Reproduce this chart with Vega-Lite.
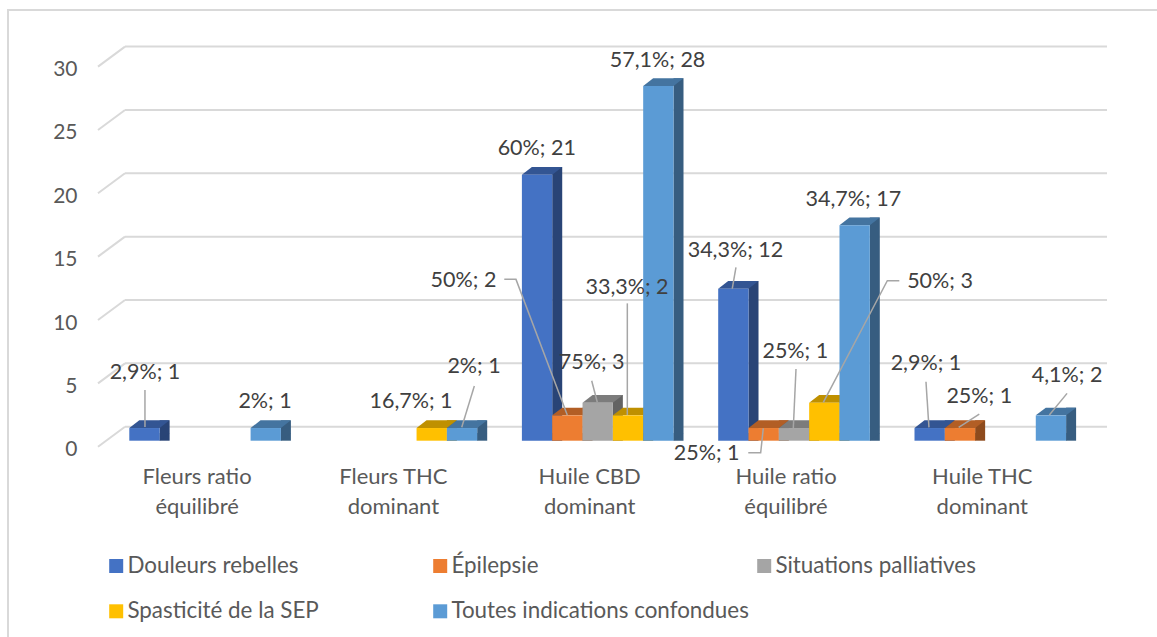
{"$schema":"https://vega.github.io/schema/vega-lite/v6.json","width":982,"height":380.1,"autosize":"none","padding":{"left":125,"top":60.6,"right":50,"bottom":196.3},"background":"white","config":{"view":{"stroke":null},"font":"Lato","text":{"font":"Lato"}},
"datasets":{"bars":[
{"n":1,"category":"Fleurs ratio équilibré","series":"Douleurs rebelles","value":1,"label":"2,9%; 1"},
{"n":2,"category":"Fleurs ratio équilibré","series":"Toutes indications confondues","value":1,"label":"2%; 1"},
{"n":3,"category":"Fleurs THC dominant","series":"Spasticité de la SEP","value":1,"label":"16,7%; 1"},
{"n":4,"category":"Fleurs THC dominant","series":"Toutes indications confondues","value":1,"label":"2%; 1"},
{"n":5,"category":"Huile CBD dominant","series":"Douleurs rebelles","value":21,"label":"60%; 21"},
{"n":6,"category":"Huile CBD dominant","series":"Épilepsie","value":2,"label":"50%; 2"},
{"n":7,"category":"Huile CBD dominant","series":"Situations palliatives","value":3,"label":"75%; 3"},
{"n":8,"category":"Huile CBD dominant","series":"Spasticité de la SEP","value":2,"label":"33,3%; 2"},
{"n":9,"category":"Huile CBD dominant","series":"Toutes indications confondues","value":28,"label":"57,1%; 28"},
{"n":10,"category":"Huile ratio équilibré","series":"Douleurs rebelles","value":12,"label":"34,3%; 12"},
{"n":11,"category":"Huile ratio équilibré","series":"Épilepsie","value":1,"label":"25%; 1"},
{"n":12,"category":"Huile ratio équilibré","series":"Situations palliatives","value":1,"label":"25%; 1"},
{"n":13,"category":"Huile ratio équilibré","series":"Spasticité de la SEP","value":3,"label":"50%; 3"},
{"n":14,"category":"Huile ratio équilibré","series":"Toutes indications confondues","value":17,"label":"34,7%; 17"},
{"n":15,"category":"Huile THC dominant","series":"Douleurs rebelles","value":1,"label":"2,9%; 1"},
{"n":16,"category":"Huile THC dominant","series":"Épilepsie","value":1,"label":"25%; 1"},
{"n":17,"category":"Huile THC dominant","series":"Toutes indications confondues","value":2,"label":"4,1%; 2"}],
"ticks":[{"tick":0},{"tick":5},{"tick":10},{"tick":15},{"tick":20},{"tick":25},{"tick":30}]},
"resolve":{"scale":{"x":"independent","xOffset":"independent","color":"independent"}},
"layer":[
{"data":{"values":[{}]},"mark":{"type":"rect","fill":null,"stroke":"#D9D9D9","strokeWidth":2,"xOffset":-117,"yOffset":-50.6},"encoding":{"x":{"value":0},"x2":{"value":1200},"y":{"value":0},"y2":{"value":700}}},
{"data":{"name":"ticks"},"mark":{"type":"rule","stroke":"#D9D9D9","strokeWidth":2,"yOffset":-14},"encoding":{"y":{"field":"tick","type":"quantitative","title":null,"scale":{"domain":[0,30],"nice":false},"axis":{"values":[0,5,10,15,20,25,30],"domain":false,"ticks":false,"grid":false,"labelFontSize":21,"labelColor":"#595959","labelFont":"Lato","labelPadding":48,"labelOffset":9}}}},
{"data":{"name":"ticks"},"mark":{"type":"point","shape":"M-491,-14L-518,6","size":4,"filled":false,"stroke":"#D9D9D9","strokeWidth":2,"opacity":1},"encoding":{"y":{"field":"tick","type":"quantitative","title":null,"axis":{"values":[0,5,10,15,20,25,30],"domain":false,"ticks":false,"grid":false,"labelFontSize":21,"labelColor":"#595959","labelFont":"Lato","labelPadding":48,"labelOffset":9}}}},
{"data":{"name":"bars"},"mark":{"type":"bar","width":10,"yOffset":-7.7,"y2Offset":-7.7},
"encoding":{
"x":{"field":"category","type":"nominal","title":null,"sort":null,"axis":null,"scale":{"domain":["Fleurs ratio équilibré","Fleurs THC dominant","Huile CBD dominant","Huile ratio équilibré","Huile THC dominant"],"range":[2.11,983.61],"paddingInner":0,"paddingOuter":0}},
"xOffset":{"field":"series","type":"nominal","sort":null,"scale":{"domain":["Douleurs rebelles","Épilepsie","Situations palliatives","Spasticité de la SEP","Toutes indications confondues"],"paddingInner":0,"paddingOuter":0.737}},
"y":{"field":"value","type":"quantitative","stack":null,"title":null,"scale":{"domain":[0,30],"nice":false},"axis":{"values":[0,5,10,15,20,25,30],"domain":false,"ticks":false,"grid":false,"labelFontSize":21,"labelColor":"#595959","labelFont":"Lato","labelPadding":48,"labelOffset":9}},
"color":{"field":"series","type":"nominal","legend":null,"scale":{"domain":["Douleurs rebelles","Épilepsie","Situations palliatives","Spasticité de la SEP","Toutes indications confondues"],"range":["#294476","#8E4B1D","#636363","#997300","#375D80"]}}}},
{"data":{"name":"bars"},
"encoding":{
"x":{"field":"category","type":"nominal","title":null,"sort":null,"scale":{"domain":["Fleurs ratio équilibré","Fleurs THC dominant","Huile CBD dominant","Huile ratio équilibré","Huile THC dominant"],"range":[-18.05,963.45],"paddingInner":0,"paddingOuter":0},"axis":{"labelAngle":0,"domain":false,"ticks":false,"labelFontSize":22,"labelColor":"#595959","labelFont":"Lato","labelPadding":25.5,"labelOffset":-8,"labelLineHeight":30,"labelLimit":400,"labelExpr":"[substring(datum.label,0,lastindexof(datum.label,' ')),substring(datum.label,lastindexof(datum.label,' ')+1)]"}},
"xOffset":{"field":"series","type":"nominal","sort":null,"scale":{"domain":["Douleurs rebelles","Épilepsie","Situations palliatives","Spasticité de la SEP","Toutes indications confondues"],"paddingInner":0,"paddingOuter":0.737}},
"y":{"field":"value","type":"quantitative","stack":null,"title":null,"scale":{"domain":[0,30],"nice":false},"axis":{"values":[0,5,10,15,20,25,30],"domain":false,"ticks":false,"grid":false,"labelFontSize":21,"labelColor":"#595959","labelFont":"Lato","labelPadding":48,"labelOffset":9}}},
"resolve":{"scale":{"color":"independent"}},
"layer":[
{"mark":{"type":"point","shape":"M15.16,0L15.16,-7.7L25.16,-7.7Z","size":4,"filled":true,"opacity":1},"encoding":{"y":{"datum":0},"color":{"field":"series","type":"nominal","legend":null,"scale":{"domain":["Douleurs rebelles","Épilepsie","Situations palliatives","Spasticité de la SEP","Toutes indications confondues"],"range":["#294476","#8E4B1D","#636363","#997300","#375D80"]}}}},
{"mark":{"type":"point","shape":"M-15.16,0L15.16,0L25.16,-7.7L-5.16,-7.7Z","size":4,"filled":true,"opacity":1},"encoding":{"color":{"field":"series","type":"nominal","legend":null,"scale":{"domain":["Douleurs rebelles","Épilepsie","Situations palliatives","Spasticité de la SEP","Toutes indications confondues"],"range":["#335593","#B25E25","#7C7C7C","#BF9000","#4474A0"]}}}},
{"mark":{"type":"bar"},"encoding":{"color":{"field":"series","type":"nominal","sort":null,"scale":{"domain":["Douleurs rebelles","Épilepsie","Situations palliatives","Spasticité de la SEP","Toutes indications confondues"],"range":["#4472C4","#ED7D31","#A5A5A5","#FFC000","#5B9BD5"]},"legend":{"title":null,"orient":"none","direction":"horizontal","legendX":-20,"legendY":494,"columns":3,"gridAlign":"all","symbolType":"square","symbolSize":196,"symbolStrokeWidth":0,"labelFontSize":22.4,"labelFont":"Lato","labelColor":"#595959","labelOffset":0,"labelLimit":400,"columnPadding":4,"rowPadding":22.5}}}},
{"transform":[{"filter":"datum.n==1"}],"mark":{"type":"point","shape":"M0.5,-38L0.5,-1","size":4,"filled":false,"stroke":"#A6A6A6","strokeWidth":1.5,"opacity":1}},
{"transform":[{"filter":"datum.n==4"}],"mark":{"type":"point","shape":"M12.3,-42L-0.3,-0.7","size":4,"filled":false,"stroke":"#A6A6A6","strokeWidth":1.5,"opacity":1}},
{"transform":[{"filter":"datum.n==6"}],"mark":{"type":"point","shape":"M-63.1,-136L-51.4,-136L-0.1,-0.4","size":4,"filled":false,"stroke":"#A6A6A6","strokeWidth":1.5,"opacity":1}},
{"transform":[{"filter":"datum.n==7"}],"mark":{"type":"point","shape":"M-6,-22L-0.4,-0.4","size":4,"filled":false,"stroke":"#A6A6A6","strokeWidth":1.5,"opacity":1}},
{"transform":[{"filter":"datum.n==8"}],"mark":{"type":"point","shape":"M-0.7,-112L-0.7,-0.4","size":4,"filled":false,"stroke":"#A6A6A6","strokeWidth":1.5,"opacity":1}},
{"transform":[{"filter":"datum.n==10"}],"mark":{"type":"point","shape":"M2.6,-21.4L-1.1,0","size":4,"filled":false,"stroke":"#A6A6A6","strokeWidth":1.5,"opacity":1}},
{"transform":[{"filter":"datum.n==11"}],"mark":{"type":"point","shape":"M-15.4,24.7L-3,24.7L-0.4,0.3","size":4,"filled":false,"stroke":"#A6A6A6","strokeWidth":1.5,"opacity":1}},
{"transform":[{"filter":"datum.n==12"}],"mark":{"type":"point","shape":"M2,-59L-0.7,0.3","size":4,"filled":false,"stroke":"#A6A6A6","strokeWidth":1.5,"opacity":1}},
{"transform":[{"filter":"datum.n==13"}],"mark":{"type":"point","shape":"M75,-122L63,-122L-1,-0.4","size":4,"filled":false,"stroke":"#A6A6A6","strokeWidth":1.5,"opacity":1}},
{"transform":[{"filter":"datum.n==15"}],"mark":{"type":"point","shape":"M-3.7,-46.3L-0.7,-0.7","size":4,"filled":false,"stroke":"#A6A6A6","strokeWidth":1.5,"opacity":1}},
{"transform":[{"filter":"datum.n==16"}],"mark":{"type":"point","shape":"M19.3,-14L-1.3,-0.7","size":4,"filled":false,"stroke":"#A6A6A6","strokeWidth":1.5,"opacity":1}},
{"transform":[{"filter":"datum.n==17"}],"mark":{"type":"point","shape":"M16.1,-22L-1.6,-0.4","size":4,"filled":false,"stroke":"#A6A6A6","strokeWidth":1.5,"opacity":1}},
{"transform":[{"filter":"datum.n==1"}],"mark":{"type":"text","fontSize":21.5,"font":"Lato","fill":"#404040","baseline":"middle","dx":0.5,"dy":-55.3},"encoding":{"text":{"field":"label"}}},
{"transform":[{"filter":"datum.n==2"}],"mark":{"type":"text","fontSize":21.5,"font":"Lato","fill":"#404040","baseline":"middle","dx":-0.7,"dy":-26.3},"encoding":{"text":{"field":"label"}}},
{"transform":[{"filter":"datum.n==3"}],"mark":{"type":"text","fontSize":21.5,"font":"Lato","fill":"#404040","baseline":"middle","dx":-20.7,"dy":-26.3},"encoding":{"text":{"field":"label"}}},
{"transform":[{"filter":"datum.n==4"}],"mark":{"type":"text","fontSize":21.5,"font":"Lato","fill":"#404040","baseline":"middle","dx":12,"dy":-61},"encoding":{"text":{"field":"label"}}},
{"transform":[{"filter":"datum.n==5"}],"mark":{"type":"text","fontSize":21.5,"font":"Lato","fill":"#404040","baseline":"middle","dx":-0.3,"dy":-25.6},"encoding":{"text":{"field":"label"}}},
{"transform":[{"filter":"datum.n==6"}],"mark":{"type":"text","fontSize":21.5,"font":"Lato","fill":"#404040","baseline":"middle","dx":-103.9,"dy":-134.7},"encoding":{"text":{"field":"label"}}},
{"transform":[{"filter":"datum.n==7"}],"mark":{"type":"text","fontSize":21.5,"font":"Lato","fill":"#404040","baseline":"middle","dx":-6,"dy":-40},"encoding":{"text":{"field":"label"}}},
{"transform":[{"filter":"datum.n==8"}],"mark":{"type":"text","fontSize":21.5,"font":"Lato","fill":"#404040","baseline":"middle","dx":-1,"dy":-127},"encoding":{"text":{"field":"label"}}},
{"transform":[{"filter":"datum.n==9"}],"mark":{"type":"text","fontSize":21.5,"font":"Lato","fill":"#404040","baseline":"middle","dx":-0.8,"dy":-25},"encoding":{"text":{"field":"label"}}},
{"transform":[{"filter":"datum.n==10"}],"mark":{"type":"text","fontSize":21.5,"font":"Lato","fill":"#404040","baseline":"middle","dx":2.1,"dy":-38},"encoding":{"text":{"field":"label"}}},
{"transform":[{"filter":"datum.n==11"}],"mark":{"type":"text","fontSize":21.5,"font":"Lato","fill":"#404040","baseline":"middle","dx":-57,"dy":26},"encoding":{"text":{"field":"label"}}},
{"transform":[{"filter":"datum.n==12"}],"mark":{"type":"text","fontSize":21.5,"font":"Lato","fill":"#404040","baseline":"middle","dx":1.3,"dy":-75.7},"encoding":{"text":{"field":"label"}}},
{"transform":[{"filter":"datum.n==13"}],"mark":{"type":"text","fontSize":21.5,"font":"Lato","fill":"#404040","baseline":"middle","dx":115.7,"dy":-121},"encoding":{"text":{"field":"label"}}},
{"transform":[{"filter":"datum.n==14"}],"mark":{"type":"text","fontSize":21.5,"font":"Lato","fill":"#404040","baseline":"middle","dx":-1.3,"dy":-25.3},"encoding":{"text":{"field":"label"}}},
{"transform":[{"filter":"datum.n==15"}],"mark":{"type":"text","fontSize":21.5,"font":"Lato","fill":"#404040","baseline":"middle","dx":-3.7,"dy":-64},"encoding":{"text":{"field":"label"}}},
{"transform":[{"filter":"datum.n==16"}],"mark":{"type":"text","fontSize":21.5,"font":"Lato","fill":"#404040","baseline":"middle","dx":19.3,"dy":-30.7},"encoding":{"text":{"field":"label"}}},
{"transform":[{"filter":"datum.n==17"}],"mark":{"type":"text","fontSize":21.5,"font":"Lato","fill":"#404040","baseline":"middle","dx":16.1,"dy":-39.7},"encoding":{"text":{"field":"label"}}}
]}
]}
